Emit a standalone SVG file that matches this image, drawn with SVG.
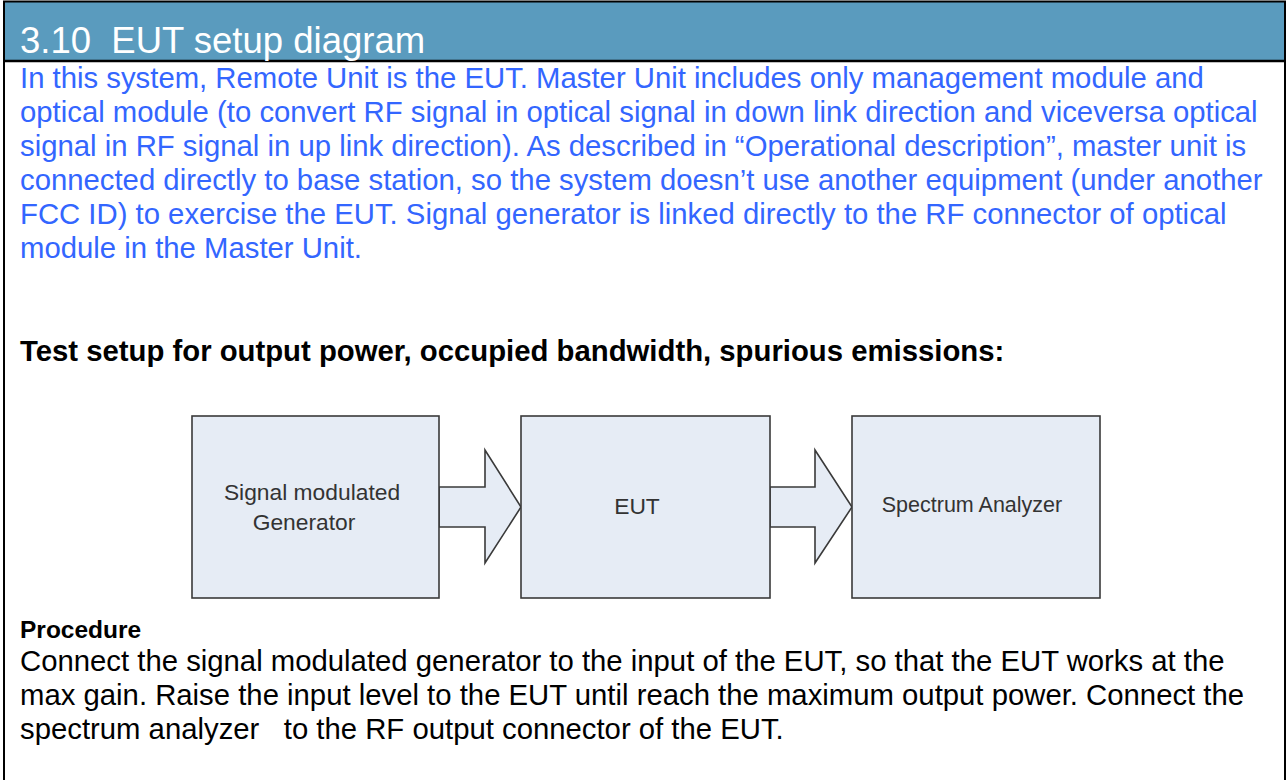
<svg xmlns="http://www.w3.org/2000/svg" width="1287" height="780" viewBox="0 0 1287 780">
<style>
.hdr{font-family:"Liberation Sans",Arial,sans-serif;font-size:36.5px;fill:#ffffff}
.blue{font-family:"Liberation Sans",Arial,sans-serif;font-size:29.3px;fill:#3366ff}
.blk{font-family:"Liberation Sans",Arial,sans-serif;font-size:29.3px;fill:#000000}
.bold{font-weight:bold}
.box{fill:#e6ecf5;stroke:#3a3a3a;stroke-width:1.6}
.arrow{fill:#e6ecf5;stroke:#3a3a3a;stroke-width:1.6;stroke-linejoin:miter}
.lbl{font-family:"Liberation Sans",Arial,sans-serif;font-size:22.8px;fill:#333333;text-anchor:middle}
</style>
<rect width="1287" height="780" fill="#ffffff"/>
<g id="frame">
<rect x="4" y="2" width="1281" height="59" fill="#5a9bbe"/>
<line x1="3" y1="1.5" x2="1286" y2="1.5" stroke="#000" stroke-width="2"/>
<line x1="3" y1="61" x2="1286" y2="61" stroke="#000" stroke-width="2.5"/>
<line x1="4" y1="1" x2="4" y2="780" stroke="#000" stroke-width="2"/>
<line x1="1285" y1="1" x2="1285" y2="780" stroke="#000" stroke-width="2"/>
<text class="hdr" x="20" y="53" xml:space="preserve">3.10  EUT setup diagram</text>
</g>
<g id="intro">
<text class="blue" x="20" y="88">In this system, Remote Unit is the EUT. Master Unit includes only management module and</text>
<text class="blue" x="20" y="122">optical module (to convert RF signal in optical signal in down link direction and viceversa optical</text>
<text class="blue" x="20" y="156">signal in RF signal in up link direction). As described in “Operational description”, master unit is</text>
<text class="blue" x="20" y="190">connected directly to base station, so the system doesn’t use another equipment (under another</text>
<text class="blue" x="20" y="224">FCC ID) to exercise the EUT. Signal generator is linked directly to the RF connector of optical</text>
<text class="blue" x="20" y="258">module in the Master Unit.</text>
</g>
<g id="title">
<text class="blk bold" x="20" y="361">Test setup for output power, occupied bandwidth, spurious emissions:</text>
</g>
<g id="connectors">
<polygon class="arrow" points="439,487 485,487 485,450 521,507 485,563 485,527 439,527"/>
<polygon class="arrow" points="770,487 815,487 815,450 852,507 815,563 815,527 770,527"/>
</g>
<g id="node-generator">
<rect class="box" x="192" y="416" width="247" height="182"/>
<text class="lbl" x="312" y="500">Signal modulated</text>
<text class="lbl" x="304" y="530">Generator</text>
</g>
<g id="node-eut">
<rect class="box" x="521" y="416" width="249" height="182"/>
<text class="lbl" x="637" y="514">EUT</text>
</g>
<g id="node-analyzer">
<rect class="box" x="852" y="416" width="248" height="182"/>
<text class="lbl" x="972" y="512" style="font-size:21.5px">Spectrum Analyzer</text>
</g>
<g id="procedure">
<text class="blk bold" x="20" y="638" style="font-size:24.5px">Procedure</text>
<text class="blk" x="20" y="671">Connect the signal modulated generator to the input of the EUT, so that the EUT works at the</text>
<text class="blk" x="20" y="705">max gain. Raise the input level to the EUT until reach the maximum output power. Connect the</text>
<text class="blk" x="20" y="739" xml:space="preserve">spectrum analyzer   to the RF output connector of the EUT.</text>
</g>
</svg>
